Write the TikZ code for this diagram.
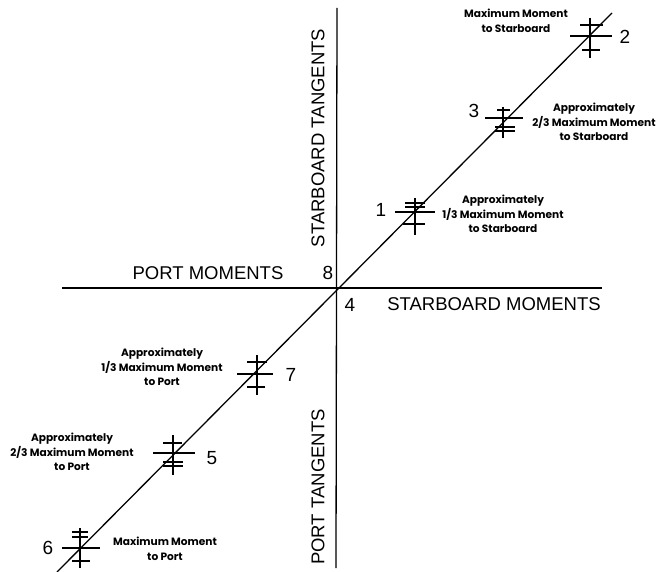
\documentclass[tikz,border=0pt]{standalone}
\usepackage{fontspec}
\setmainfont{Liberation Sans}
\newfontfamily\notefont{Poppins}
\begin{document}
\begin{tikzpicture}[x=1pt,y=-1pt,
  axis/.style={line width=1.3pt},
  bar/.style={line width=1.2pt},
  big/.style={font=\fontsize{18.5}{20}\selectfont, inner sep=0pt},
  num/.style={font=\fontsize{19}{20}\selectfont, inner sep=0pt},
  note/.style={font=\notefont\bfseries\fontsize{10.6}{14.6}\selectfont, align=center, inner sep=0pt}]
\useasboundingbox (0,0) rectangle (670,572);

% axes and the moment line
\coordinate (vtop) at (337,8);
\coordinate (vbot) at (336,568);
\coordinate (hleft) at (62,288);
\coordinate (hright) at (602,288);
\coordinate (dlow) at (57,572);
\coordinate (dhigh) at (612,13);
\draw[axis] (vtop) -- (vbot);
\draw[axis] (hleft) -- (hright);
\draw[axis] (dlow) -- (dhigh);

% tick crosses along the moment line
% point 2
\draw[bar] (570,36) -- (612,36);
\draw[bar] (590,18) -- (590,58);
\draw[bar] (580,25) -- (603,25);
\draw[bar] (582,50) -- (600,50);
% point 3
\draw[bar] (485,118) -- (523,118);
\draw[bar] (503,107) -- (503,138);
\draw[bar] (497,110) -- (510,110);
\draw[bar] (495,127) -- (515,127);
\draw[bar] (495,131) -- (515,131);
% point 1
\draw[bar] (395,212) -- (435,212);
\draw[bar] (415,198) -- (415,235);
\draw[bar] (405,203) -- (425,203);
\draw[bar] (405,207) -- (425,207);
\draw[bar] (403,224) -- (425,224);
% point 7
\draw[bar] (237,374) -- (273,374);
\draw[bar] (257,355) -- (257,395);
\draw[bar] (247,362) -- (267,362);
\draw[bar] (247,387) -- (265,387);
% point 5
\draw[bar] (153,453) -- (195,453);
\draw[bar] (173,435) -- (173,475);
\draw[bar] (163,443) -- (182,443);
\draw[bar] (163,462) -- (183,462);
\draw[bar] (163,466) -- (183,466);
% point 6
\draw[bar] (62,548) -- (100,548);
\draw[bar] (80,528) -- (80,568);
\draw[bar] (72,532) -- (88,532);
\draw[bar] (72,537) -- (88,537);
\draw[bar] (72,561) -- (90,561);

% axis captions
\node[big] (pm) at (208,273) {PORT MOMENTS};
\node[big] (sm) at (494,304) {STARBOARD MOMENTS};
\node[big, rotate=90] (st) at (318,138) {STARBOARD TANGENTS};
\node[big, rotate=90] (pt) at (318,487) {PORT TANGENTS};

% point numbers
\node[num] (n8) at (328,273) {8};
\node[num] (n4) at (350,305) {4};
\node[num] (n2) at (625,37) {2};
\node[num] (n3) at (474,111) {3};
\node[num] (n1) at (381,210) {1};
\node[num] (n7) at (291,375) {7};
\node[num] (n5) at (212,458) {5};
\node[num] (n6) at (48,548) {6};

% point descriptions
\node[note] (d2) at (516,21) {Maximum Moment\\to Starboard};
\node[note] (d3) at (594,122) {Approximately\\2/3 Maximum Moment\\to Starboard};
\node[note] (d1) at (503,214) {Approximately\\1/3 Maximum Moment\\to Starboard};
\node[note] (d7) at (162,367) {Approximately\\1/3 Maximum Moment\\to Port};
\node[note] (d5) at (72,452) {Approximately\\2/3 Maximum Moment\\to Port};
\node[note] (d6) at (165,549) {Maximum Moment\\to Port};
\end{tikzpicture}
\end{document}
